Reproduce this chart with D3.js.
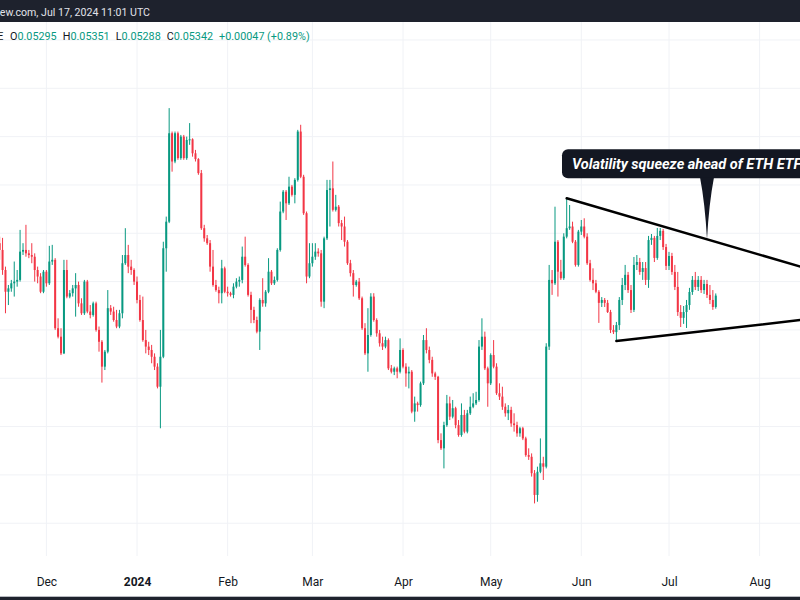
<!DOCTYPE html>
<html><head><meta charset="utf-8">
<script src="https://cdn.jsdelivr.net/npm/d3@7"></script>
<style>
body{margin:0;background:#fff;overflow:hidden;}
svg{display:block;font-family:Roboto,"Noto Sans",sans-serif;}
</style>
</head><body>
<svg id="chart" width="800" height="600"></svg>
<script>
// ---- DATA (ETH/BTC daily, 2023-11-15 .. 2024-07-17) ----
const firstDay = "2023-11-15";
const lastDay = "2024-07-17";
const open = [0.05559,0.05531,0.05448,0.05358,0.05372,0.05393,0.05400,0.05407,0.05524,0.05531,
0.05517,0.05510,0.05503,0.05448,0.05421,0.05358,0.05441,0.05393,0.05483,0.05490,
0.05207,0.05172,0.05103,0.05448,0.05338,0.05352,0.05372,0.05386,0.05310,0.05269,
0.05400,0.05276,0.05262,0.05310,0.05200,0.05151,0.05048,0.05110,0.05290,0.05276,
0.05241,0.05214,0.05269,0.05476,0.05510,0.05462,0.05448,0.05400,0.05324,0.05241,
0.05158,0.05131,0.05117,0.05089,0.05048,0.04965,0.05089,0.05538,0.05648,0.06014,
0.05897,0.06014,0.05911,0.06000,0.05911,0.05986,0.05989,0.05931,0.05907,0.05849,
0.05621,0.05579,0.05559,0.05462,0.05386,0.05365,0.05352,0.05455,0.05358,0.05352,
0.05345,0.05379,0.05400,0.05407,0.05503,0.05469,0.05345,0.05283,0.05241,0.05193,
0.05324,0.05310,0.05358,0.05441,0.05393,0.05407,0.05531,0.05690,0.05772,0.05724,
0.05793,0.05759,0.05821,0.06021,0.05834,0.05683,0.05421,0.05476,0.05503,0.05524,
0.05517,0.05317,0.05579,0.05779,0.05786,0.05697,0.05710,0.05642,0.05628,0.05565,
0.05476,0.05435,0.05386,0.05400,0.05331,0.05207,0.05103,0.05179,0.05338,0.05241,
0.05186,0.05145,0.05131,0.05158,0.05041,0.05027,0.05041,0.05027,0.05117,0.05048,
0.05020,0.05027,0.04862,0.04896,0.04889,0.04979,0.05158,0.05117,0.05076,0.05020,
0.05006,0.04744,0.04710,0.04806,0.04896,0.04841,0.04876,0.04806,0.04765,0.04848,
0.04779,0.04855,0.04882,0.04896,0.04910,0.05131,0.05172,0.05041,0.04979,0.05096,
0.05048,0.04938,0.04924,0.04882,0.04855,0.04869,0.04813,0.04806,0.04772,0.04793,
0.04751,0.04682,0.04675,0.04607,0.04517,0.04613,0.04648,0.04634,0.05131,0.05407,
0.05393,0.05565,0.05441,0.05414,0.05586,0.05621,0.05628,0.05565,0.05469,0.05607,
0.05628,0.05586,0.05476,0.05407,0.05393,0.05358,0.05312,0.05324,0.05312,0.05274,
0.05200,0.05191,0.05220,0.05324,0.05386,0.05428,0.05365,0.05283,0.05469,0.05481,
0.05440,0.05456,0.05407,0.05572,0.05581,0.05498,0.05589,0.05610,0.05543,0.05465,
0.05506,0.05440,0.05378,0.05274,0.05250,0.05274,0.05303,0.05357,0.05407,0.05378,
0.05407,0.05365,0.05390,0.05345,0.05324,0.05295];
const high = [0.05586,0.05581,0.05462,0.05386,0.05407,0.05483,0.05448,0.05614,0.05559,0.05635,
0.05531,0.05559,0.05517,0.05462,0.05435,0.05448,0.05448,0.05548,0.05552,0.05497,
0.05248,0.05207,0.05490,0.05490,0.05365,0.05386,0.05435,0.05400,0.05331,0.05407,
0.05407,0.05303,0.05317,0.05317,0.05214,0.05158,0.05117,0.05365,0.05303,0.05296,
0.05283,0.05283,0.05510,0.05621,0.05552,0.05490,0.05455,0.05421,0.05345,0.05338,
0.05200,0.05151,0.05138,0.05103,0.05062,0.05200,0.05565,0.05669,0.06118,0.06021,
0.06021,0.06021,0.06007,0.06007,0.06000,0.06056,0.05993,0.05945,0.05911,0.05862,
0.05635,0.05593,0.05572,0.05531,0.05407,0.05379,0.05490,0.05462,0.05379,0.05358,
0.05393,0.05414,0.05421,0.05545,0.05586,0.05476,0.05358,0.05296,0.05255,0.05331,
0.05414,0.05365,0.05497,0.05448,0.05421,0.05538,0.05731,0.05779,0.05779,0.05834,
0.05800,0.05828,0.06028,0.06049,0.05842,0.05690,0.05559,0.05559,0.05559,0.05538,
0.05531,0.05586,0.05821,0.05821,0.05897,0.05759,0.05717,0.05655,0.05669,0.05572,
0.05490,0.05448,0.05407,0.05415,0.05338,0.05228,0.05290,0.05352,0.05352,0.05248,
0.05200,0.05172,0.05172,0.05165,0.05055,0.05048,0.05048,0.05165,0.05124,0.05062,
0.05048,0.05034,0.04924,0.04903,0.04986,0.05179,0.05207,0.05131,0.05089,0.05027,
0.05010,0.04772,0.04820,0.04931,0.04924,0.04910,0.04882,0.04827,0.04896,0.04869,
0.04869,0.04924,0.04938,0.04944,0.05158,0.05248,0.05193,0.05048,0.05103,0.05158,
0.05062,0.04979,0.04965,0.04896,0.04889,0.04882,0.04855,0.04820,0.04799,0.04799,
0.04758,0.04710,0.04689,0.04620,0.04634,0.04751,0.04675,0.05145,0.05469,0.05448,
0.05710,0.05572,0.05490,0.05600,0.05745,0.05717,0.05648,0.05572,0.05614,0.05655,
0.05662,0.05600,0.05490,0.05455,0.05407,0.05365,0.05336,0.05332,0.05324,0.05283,
0.05220,0.05233,0.05336,0.05415,0.05469,0.05440,0.05386,0.05502,0.05510,0.05498,
0.05481,0.05481,0.05589,0.05597,0.05589,0.05622,0.05622,0.05618,0.05556,0.05523,
0.05519,0.05469,0.05440,0.05303,0.05299,0.05324,0.05374,0.05423,0.05440,0.05423,
0.05423,0.05407,0.05407,0.05386,0.05365,0.05351];
const low = [0.05490,0.05428,0.05269,0.05303,0.05358,0.05338,0.05379,0.05400,0.05510,0.05503,
0.05497,0.05476,0.05400,0.05393,0.05352,0.05352,0.05379,0.05386,0.05469,0.05200,
0.05165,0.05096,0.05100,0.05331,0.05331,0.05338,0.05255,0.05296,0.05262,0.05262,
0.05269,0.05248,0.05255,0.05193,0.05110,0.04982,0.05034,0.05103,0.05262,0.05234,
0.05207,0.05207,0.05248,0.05469,0.05435,0.05428,0.05386,0.05310,0.05234,0.05151,
0.05103,0.05096,0.05062,0.05034,0.04958,0.04793,0.05083,0.05441,0.05642,0.05855,
0.05890,0.05904,0.05904,0.05904,0.05904,0.05966,0.05917,0.05897,0.05842,0.05614,
0.05565,0.05552,0.05441,0.05379,0.05358,0.05310,0.05310,0.05352,0.05338,0.05338,
0.05331,0.05372,0.05379,0.05393,0.05462,0.05338,0.05228,0.05228,0.05186,0.05117,
0.05296,0.05296,0.05352,0.05386,0.05386,0.05400,0.05524,0.05683,0.05655,0.05717,
0.05752,0.05724,0.05814,0.05828,0.05676,0.05393,0.05414,0.05462,0.05490,0.05503,
0.05296,0.05290,0.05572,0.05628,0.05690,0.05690,0.05628,0.05572,0.05545,0.05469,
0.05421,0.05338,0.05379,0.05324,0.05200,0.05096,0.05027,0.05172,0.05234,0.05172,
0.05131,0.05117,0.05124,0.05034,0.05020,0.05013,0.05000,0.05020,0.05041,0.04965,
0.04958,0.04855,0.04820,0.04862,0.04882,0.04972,0.05103,0.05062,0.05006,0.04993,
0.04731,0.04703,0.04627,0.04799,0.04827,0.04834,0.04793,0.04758,0.04758,0.04772,
0.04772,0.04848,0.04876,0.04889,0.04903,0.05117,0.05034,0.04882,0.04972,0.05041,
0.04931,0.04910,0.04869,0.04841,0.04827,0.04799,0.04779,0.04758,0.04758,0.04744,
0.04675,0.04662,0.04593,0.04482,0.04489,0.04607,0.04579,0.04627,0.05117,0.05345,
0.05386,0.05338,0.05407,0.05407,0.05579,0.05614,0.05559,0.05462,0.05462,0.05593,
0.05579,0.05469,0.05400,0.05365,0.05352,0.05229,0.05295,0.05295,0.05270,0.05187,
0.05183,0.05158,0.05200,0.05303,0.05365,0.05353,0.05270,0.05274,0.05448,0.05428,
0.05407,0.05386,0.05374,0.05552,0.05481,0.05490,0.05572,0.05531,0.05448,0.05448,
0.05428,0.05365,0.05258,0.05212,0.05225,0.05208,0.05283,0.05345,0.05365,0.05361,
0.05353,0.05349,0.05332,0.05307,0.05283,0.05288];
const close = [0.05531,0.05448,0.05358,0.05372,0.05393,0.05400,0.05407,0.05524,0.05531,0.05517,
0.05510,0.05503,0.05448,0.05421,0.05358,0.05441,0.05393,0.05483,0.05490,0.05207,
0.05172,0.05103,0.05448,0.05338,0.05352,0.05372,0.05386,0.05310,0.05269,0.05400,
0.05276,0.05262,0.05310,0.05200,0.05151,0.05048,0.05110,0.05290,0.05276,0.05241,
0.05214,0.05269,0.05476,0.05510,0.05462,0.05448,0.05400,0.05324,0.05241,0.05158,
0.05131,0.05117,0.05089,0.05048,0.04965,0.05089,0.05538,0.05648,0.06014,0.05897,
0.06014,0.05911,0.06000,0.05911,0.05986,0.05989,0.05931,0.05907,0.05849,0.05621,
0.05579,0.05559,0.05462,0.05386,0.05365,0.05352,0.05455,0.05358,0.05352,0.05345,
0.05379,0.05400,0.05407,0.05503,0.05469,0.05345,0.05283,0.05241,0.05193,0.05324,
0.05310,0.05358,0.05441,0.05393,0.05407,0.05531,0.05690,0.05772,0.05724,0.05793,
0.05759,0.05821,0.06021,0.05834,0.05683,0.05421,0.05476,0.05503,0.05524,0.05517,
0.05317,0.05579,0.05779,0.05786,0.05697,0.05710,0.05642,0.05628,0.05565,0.05476,
0.05435,0.05386,0.05400,0.05331,0.05207,0.05103,0.05179,0.05338,0.05241,0.05186,
0.05145,0.05131,0.05158,0.05041,0.05027,0.05041,0.05027,0.05117,0.05048,0.05020,
0.05027,0.04862,0.04896,0.04889,0.04979,0.05158,0.05117,0.05076,0.05020,0.05006,
0.04744,0.04710,0.04806,0.04896,0.04841,0.04876,0.04806,0.04765,0.04848,0.04779,
0.04855,0.04882,0.04896,0.04910,0.05131,0.05172,0.05041,0.04979,0.05096,0.05048,
0.04938,0.04924,0.04882,0.04855,0.04869,0.04813,0.04806,0.04772,0.04793,0.04751,
0.04682,0.04675,0.04607,0.04517,0.04613,0.04648,0.04634,0.05131,0.05407,0.05393,
0.05565,0.05441,0.05414,0.05586,0.05621,0.05628,0.05565,0.05469,0.05607,0.05628,
0.05586,0.05476,0.05407,0.05393,0.05358,0.05312,0.05324,0.05312,0.05274,0.05200,
0.05191,0.05220,0.05324,0.05386,0.05428,0.05365,0.05283,0.05469,0.05481,0.05440,
0.05456,0.05407,0.05572,0.05581,0.05498,0.05589,0.05610,0.05543,0.05465,0.05506,
0.05440,0.05378,0.05274,0.05250,0.05274,0.05303,0.05357,0.05407,0.05378,0.05407,
0.05365,0.05390,0.05345,0.05324,0.05295,0.05342];

const monthTicks = ["2023-12-01","2024-01-01","2024-02-01","2024-03-01","2024-04-01","2024-05-01","2024-06-01","2024-07-01","2024-08-01"];
const monthLabels = ["Dec","2024","Feb","Mar","Apr","May","Jun","Jul","Aug"];
const priceTicks = [0.044,0.046,0.048,0.050,0.052,0.054,0.056,0.058,0.060,0.062,0.064];
const upperTrend = [["2024-05-27",0.05745],["2024-08-15",0.05462]];
const lowerTrend = [["2024-06-13",0.05154],["2024-08-15",0.05241]];
const calloutDate = "2024-07-14";
const calloutText = "Volatility squeeze ahead of ETH ETFs";
const headerText = "TradingView.com, Jul 17, 2024 11:01 UTC";
const symbolText = "Ethereum / Bitcoin · 1D · BINANCE";

// ---- DRAW ----
const W = 800, H = 600;
const UP = "#089981", DOWN = "#f23645";
const parse = d3.utcParse("%Y-%m-%d");
const dates = d3.utcDay.range(parse(firstDay), d3.utcDay.offset(parse(lastDay), 1));
const candles = dates.map((d, i) => ({date: d, o: open[i], h: high[i], l: low[i], c: close[i]}));

const x = d3.scaleUtc().domain([parse("2023-12-01"), parse("2024-07-01")]).range([46.4, 669]);
const y = d3.scaleLinear().domain([0.046, 0.054]).range([474.9, 281.6]);

const svg = d3.select("#chart");
svg.append("rect").attr("width", W).attr("height", H).attr("fill", "#ffffff");

const plotTop = 22, plotBottom = 556;
// grid
const grid = svg.append("g");
grid.selectAll("line.v").data(monthTicks).join("line")
  .attr("x1", d => x(parse(d))).attr("x2", d => x(parse(d)))
  .attr("y1", plotTop).attr("y2", plotBottom)
  .attr("stroke", "#f0f2f6").attr("stroke-width", 1);
grid.selectAll("line.h").data(priceTicks).join("line")
  .attr("x1", 0).attr("x2", W)
  .attr("y1", d => y(d)).attr("y2", d => y(d))
  .attr("stroke", "#f0f2f6").attr("stroke-width", 1);

// candles
const cg = svg.append("g");
const gc = cg.selectAll("g").data(candles).join("g");
gc.append("line")
  .attr("x1", d => x(d.date)).attr("x2", d => x(d.date))
  .attr("y1", d => y(d.h)).attr("y2", d => y(d.l))
  .attr("stroke", d => d.c >= d.o ? UP : DOWN).attr("stroke-width", 1);
gc.append("rect")
  .attr("x", d => x(d.date) - 1).attr("width", 2)
  .attr("y", d => y(Math.max(d.o, d.c)))
  .attr("height", d => Math.max(1, Math.abs(y(d.o) - y(d.c))))
  .attr("fill", d => d.c >= d.o ? UP : DOWN);

// trend lines
const line = d3.line().x(d => x(parse(d[0]))).y(d => y(d[1]));
[upperTrend, lowerTrend].forEach(t => {
  svg.append("path").attr("d", line(t)).attr("fill", "none")
    .attr("stroke", "#000").attr("stroke-width", 2.5).attr("stroke-linecap", "round");
});

// callout
const t0 = parse(upperTrend[0][0]), t1 = parse(upperTrend[1][0]);
const cd = parse(calloutDate);
const f = (cd - t0) / (t1 - t0);
const tipX = x(cd), tipY = y(upperTrend[0][1] + f * (upperTrend[1][1] - upperTrend[0][1]));
const boxTop = tipY - 90, boxBottom = tipY - 61;
const cgr = svg.append("g");
cgr.append("rect").attr("x", tipX - 145).attr("y", boxTop).attr("width", 300).attr("height", boxBottom - boxTop)
  .attr("rx", 6).attr("fill", "#131722");
cgr.append("path")
  .attr("d", `M${tipX - 7},${boxBottom - 1} Q${tipX - 2},${boxBottom + 25} ${tipX},${tipY} Q${tipX + 2},${boxBottom + 25} ${tipX + 7},${boxBottom - 1} Z`)
  .attr("fill", "#131722");
cgr.append("text").attr("x", tipX - 135).attr("y", boxTop + 20)
  .attr("fill", "#ffffff").attr("font-size", 14.5).attr("font-weight", "bold").attr("font-style", "italic")
  .text(calloutText);

// top header bar
svg.append("rect").attr("x", 0).attr("y", 0).attr("width", W).attr("height", 22).attr("fill", "#1e222d");
svg.append("text").attr("x", 150).attr("y", 16).attr("text-anchor", "end")
  .attr("fill", "#e1e3ea").attr("font-size", 10.6).text(headerText);

// OHLC legend
const last = candles[candles.length - 1], prev = candles[candles.length - 2];
const chg = last.c - prev.c, pct = chg / prev.c * 100;
const fmt = d3.format(".5f");
svg.append("text").attr("x", 3.5).attr("y", 40).attr("text-anchor", "end")
  .attr("fill", "#131722").attr("font-size", 10.8).text(symbolText);
const lg = svg.append("text").attr("x", 10).attr("y", 40).attr("font-size", 10.8);
const parts = [["O", fmt(last.o)], ["H", fmt(last.h)], ["L", fmt(last.l)], ["C", fmt(last.c)]];
parts.forEach((p, i) => {
  lg.append("tspan").attr("fill", "#131722").attr("dx", i === 0 ? 0 : 6).text(p[0]);
  lg.append("tspan").attr("fill", UP).text(p[1]);
});
lg.append("tspan").attr("fill", UP).attr("dx", 6)
  .text((chg >= 0 ? "+" : "") + fmt(chg) + " (" + (pct >= 0 ? "+" : "") + pct.toFixed(2) + "%)");

// x axis labels
const ax = svg.append("g").attr("transform", "translate(0,572)")
  .call(d3.axisBottom(x).tickValues(monthTicks.map(parse)).tickSize(0).tickPadding(5)
    .tickFormat((d, i) => monthLabels[i]));
ax.select(".domain").remove();
ax.selectAll("text").attr("fill", "#131722").attr("font-size", 12)
  .attr("font-family", "Roboto, 'Noto Sans', sans-serif")
  .attr("font-weight", (d, i) => monthLabels[i] === "2024" ? "bold" : "normal");

// bottom bar
svg.append("line").attr("x1", 0).attr("x2", W).attr("y1", 596.5).attr("y2", 596.5).attr("stroke", "#b8bac0");
svg.append("rect").attr("x", 0).attr("y", 597).attr("width", W).attr("height", 3).attr("fill", "#1e222d");
</script>
</body></html>
